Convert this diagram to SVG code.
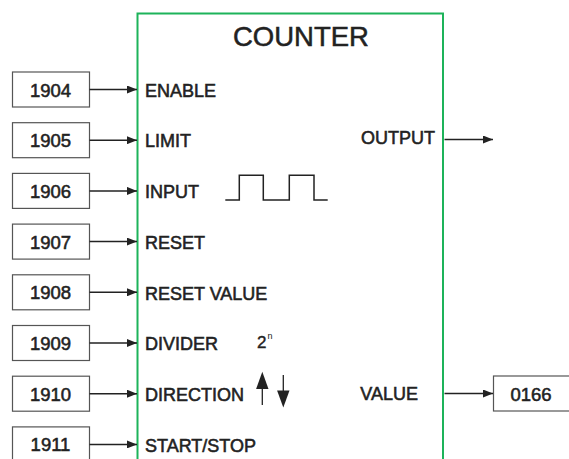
<svg xmlns="http://www.w3.org/2000/svg" width="569" height="459" viewBox="0 0 569 459">
<style>
.box{fill:#fff;stroke:#555;stroke-width:1.2}
.num{font-family:"Liberation Sans",Arial,sans-serif;font-size:18.5px;fill:#222;stroke:#222;stroke-width:0.55;text-anchor:middle}
.lbl{font-family:"Liberation Sans",Arial,sans-serif;font-size:18px;fill:#222;stroke:#222;stroke-width:0.55}
.ln{stroke:#222;stroke-width:1.5;fill:none}
</style>
<defs>
<marker id="ah" viewBox="0 0 10 8" refX="10" refY="4" markerWidth="10" markerHeight="8" markerUnits="userSpaceOnUse" orient="auto">
<path d="M0,0 L10,4 L0,8 Z" fill="#222"/>
</marker>
</defs>
<rect width="569" height="459" fill="#fff"/>
<g id="counter">
<rect x="137.5" y="13.5" width="305.5" height="460" fill="none" stroke="#1db35a" stroke-width="2"/>
<text x="301" y="46" font-family="Liberation Sans,Arial,sans-serif" font-size="27.5" fill="#222" stroke="#222" stroke-width="0.5" text-anchor="middle">COUNTER</text>
<text class="lbl" x="145" y="96.7">ENABLE</text>
<text class="lbl" x="145" y="147.4">LIMIT</text>
<text class="lbl" x="145" y="198.1">INPUT</text>
<text class="lbl" x="145" y="248.8">RESET</text>
<text class="lbl" x="145" y="299.5">RESET VALUE</text>
<text class="lbl" x="145" y="350.2">DIVIDER</text>
<text class="lbl" x="145" y="400.9">DIRECTION</text>
<text class="lbl" x="145" y="451.6">START/STOP</text>
<text class="lbl" x="435" y="144" text-anchor="end">OUTPUT</text>
<text class="lbl" x="418" y="400" text-anchor="end">VALUE</text>
<path class="ln" d="M225.3,200 H239.3 V175.3 H263.3 V200 H289.3 V175.3 H314 V200 H327.7" stroke-width="1.3"/>
<text x="257" y="348" font-family="Liberation Sans,Arial,sans-serif" font-size="17" fill="#222" stroke="#222" stroke-width="0.4">2</text>
<text x="267.5" y="339" font-family="Liberation Sans,Arial,sans-serif" font-size="9" fill="#222">n</text>
<path d="M262.3,386 V405" stroke="#222" stroke-width="1.3"/>
<path d="M262.3,371.7 L268.5,389 L256.1,389 Z" fill="#222"/>
<path d="M283.3,375 V392" stroke="#222" stroke-width="1.3"/>
<path d="M283.3,407.5 L289.5,390.5 L277.1,390.5 Z" fill="#222"/>
</g>
<g id="in1904"><rect class="box" x="12.5" y="72" width="77" height="35"/><text class="num" x="50.5" y="96.5">1904</text></g>
<g id="in1905"><rect class="box" x="12.5" y="122.7" width="77" height="35"/><text class="num" x="50.5" y="147.2">1905</text></g>
<g id="in1906"><rect class="box" x="12.5" y="173.4" width="77" height="35"/><text class="num" x="50.5" y="197.9">1906</text></g>
<g id="in1907"><rect class="box" x="12.5" y="224.1" width="77" height="35"/><text class="num" x="50.5" y="248.6">1907</text></g>
<g id="in1908"><rect class="box" x="12.5" y="274.8" width="77" height="35"/><text class="num" x="50.5" y="299.3">1908</text></g>
<g id="in1909"><rect class="box" x="12.5" y="325.5" width="77" height="35"/><text class="num" x="50.5" y="350">1909</text></g>
<g id="in1910"><rect class="box" x="12.5" y="376.2" width="77" height="35"/><text class="num" x="50.5" y="400.7">1910</text></g>
<g id="in1911"><rect class="box" x="12.5" y="426.9" width="77" height="40"/><text class="num" x="50.5" y="451.4">1911</text></g>
<g id="out0166"><rect class="box" x="493.5" y="376" width="90" height="35"/><text class="num" x="531" y="400.5">0166</text></g>
<g id="connectors">
<path class="ln" d="M89.5,89.5 H137" marker-end="url(#ah)"/>
<path class="ln" d="M89.5,140.2 H137" marker-end="url(#ah)"/>
<path class="ln" d="M89.5,190.9 H137" marker-end="url(#ah)"/>
<path class="ln" d="M89.5,241.6 H137" marker-end="url(#ah)"/>
<path class="ln" d="M89.5,292.3 H137" marker-end="url(#ah)"/>
<path class="ln" d="M89.5,343 H137" marker-end="url(#ah)"/>
<path class="ln" d="M89.5,393.7 H137" marker-end="url(#ah)"/>
<path class="ln" d="M89.5,444.4 H137" marker-end="url(#ah)"/>
<path class="ln" d="M444.5,139.5 H493" marker-end="url(#ah)"/>
<path class="ln" d="M444.5,393.5 H493" marker-end="url(#ah)"/>
</g>
</svg>
